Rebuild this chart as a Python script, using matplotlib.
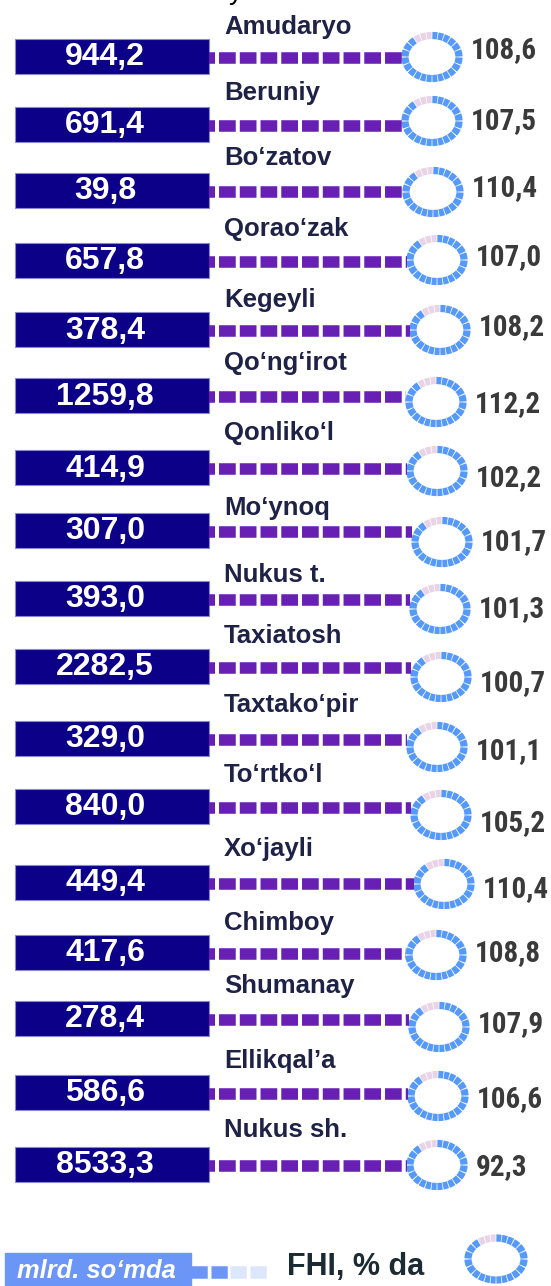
import matplotlib.pyplot as plt
from matplotlib.patches import Arc
from matplotlib import font_manager as fm

# Districts of Karakalpakstan: volume (mlrd. so'm) and FHI growth (%)
districts = ["Amudaryo", "Beruniy", "Bo‘zatov", "Qorao‘zak", "Kegeyli", "Qo‘ng‘irot",
             "Qonliko‘l", "Mo‘ynoq", "Nukus t.", "Taxiatosh", "Taxtako‘pir", "To‘rtko‘l",
             "Xo‘jayli", "Chimboy", "Shumanay", "Ellikqal’a", "Nukus sh."]
volume = [944.2, 691.4, 39.8, 657.8, 378.4, 1259.8, 414.9, 307.0, 393.0,
          2282.5, 329.0, 840.0, 449.4, 417.6, 278.4, 586.6, 8533.3]
fhi = [108.6, 107.5, 110.4, 107.0, 108.2, 112.2, 102.2, 101.7, 101.3,
       100.7, 101.1, 105.2, 110.4, 108.8, 107.9, 106.6, 92.3]

# layout in pixels (top-down)
bar_top = [39, 107, 173, 243, 312, 378, 450, 513, 581, 649, 721, 789, 865, 935, 1001, 1075, 1147]
label_base = [34, 100, 165, 236, 307, 370, 440, 515, 582, 643, 712, 782, 856, 930, 993, 1068, 1137]
ring_x = [432, 432, 433, 437, 440, 436, 437, 442, 440, 441, 437, 441, 444, 436, 439, 438, 437]
ring_y = [57, 121, 192, 260, 330, 402, 471, 542, 609, 677, 747, 815, 884, 955, 1027, 1096, 1165]
value_y = [50, 121, 188, 257, 327, 404, 478, 542, 609, 683, 751, 823, 889, 953, 1024, 1099, 1167]

NAVY = "#0c0088"
PURPLE = "#671fb4"
BLUE = "#5599fb"
PINK = "#e9d3e7"
LABEL = "#1f2247"
GREY = "#3a3a3a"
LEG_BLUE = "#6b95f6"

# look for a narrow bold face for the percentages
narrow_prop = None
for pref in ["Liberation Sans Narrow", "Arial Narrow", "Roboto Condensed",
             "DejaVu Sans", "Noto Sans", "Open Sans"]:
    for f in fm.fontManager.ttflist:
        if f.name == pref and f.stretch == "condensed" and f.weight in (700, "bold") \
                and f.style == "normal":
            narrow_prop = fm.FontProperties(fname=f.fname, size=21)
            break
    if narrow_prop:
        break
if narrow_prop is None:
    narrow_prop = fm.FontProperties(family="Liberation Sans", weight="bold", size=18)

W, H = 551, 1286
fig = plt.figure(figsize=(W / 100, H / 100), dpi=100)
ax = fig.add_axes([0, 0, 1, 1])
ax.set_xlim(0, W)
ax.set_ylim(H, 0)
ax.axis("off")

bar_left, bar_w, bar_h = 15, 194, 35
dash_style = (0.93, (1.45, 0.35))


def ring(cx, cy, w, h, lw=5.2):
    # segmented donut: 24 pieces, 3 pale ones at top-left
    for s in range(24):
        a0 = s * 15
        col = PINK if 225 <= a0 < 270 else BLUE
        ax.add_patch(Arc((cx, cy), w, h, theta1=a0 + 1, theta2=a0 + 14,
                         color=col, lw=lw, capstyle="butt"))


centers = [t + bar_h / 2 for t in bar_top]
ax.barh(centers, bar_w, left=bar_left, height=bar_h, color=NAVY,
        edgecolor="#8c88d0", linewidth=0.8)

for i, name in enumerate(districts):
    y = centers[i]
    ax.text(bar_left + bar_w / 2 - 7, y + 1, f"{volume[i]:.1f}".replace(".", ","),
            color="white", fontsize=23, fontweight="bold", family="Liberation Sans",
            ha="center", va="center")
    ax.text(224, label_base[i], name, color=LABEL, fontsize=18.5, fontweight="bold",
            family="Liberation Sans", ha="left", va="baseline")
    ax.plot([bar_left + bar_w, ring_x[i] - 30], [y + 1, y + 1], color=PURPLE, lw=8.3,
            linestyle=dash_style, dash_capstyle="butt")
    ring(ring_x[i], ring_y[i], 54, 43)
    ax.text(ring_x[i] + 39, value_y[i], f"{fhi[i]:.1f}".replace(".", ","), color=GREY,
            fontproperties=narrow_prop, ha="left", va="center")

# cropped title remnant at the very top
ax.text(229, -1, "y", color="black", fontsize=20, family="Liberation Sans",
        ha="left", va="baseline")

# legend
ax.add_patch(plt.Rectangle((5, 1253), 186, 40, color=LEG_BLUE, clip_on=False))
ax.text(17, 1271, "mlrd. so‘mda", color="white", fontsize=18.4, fontweight="bold",
        style="italic", family="Liberation Sans", ha="left", va="center")
ax.plot([191, 228], [1272, 1272], color=LEG_BLUE, lw=9, linestyle=(0, (1.3, 0.3)),
        dash_capstyle="butt")
ax.plot([230, 268], [1272, 1272], color="#dde7fb", lw=9, linestyle=(0, (1.3, 0.3)),
        dash_capstyle="butt")
ax.text(287, 1267, "FHI, % da", color="#1b2a33", fontsize=22, fontweight="bold",
        family="Liberation Sans", ha="left", va="center")
ring(496, 1259, 56, 42)

fig.savefig("out.png", dpi=100)
